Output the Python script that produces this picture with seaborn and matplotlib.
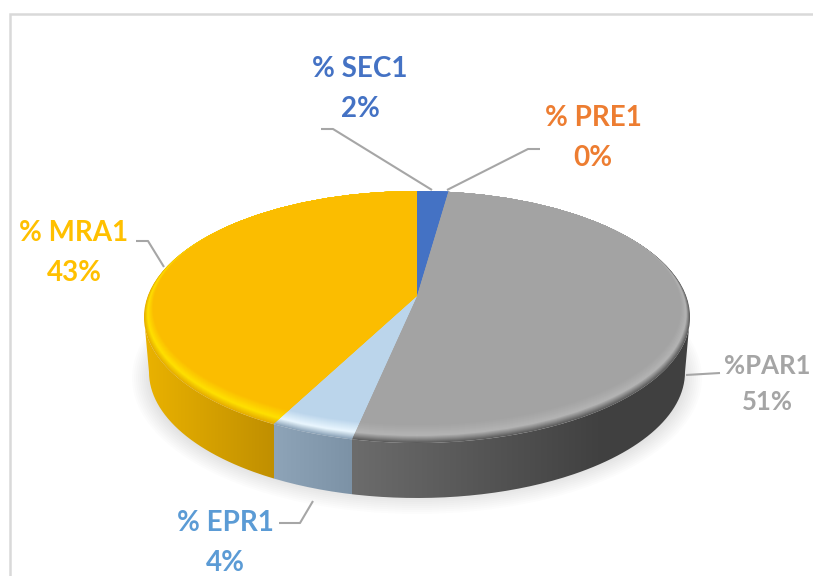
import numpy as np
import seaborn as sns
import matplotlib.pyplot as plt
from matplotlib.colors import to_rgb
from matplotlib.patches import Ellipse, PathPatch, Rectangle
from matplotlib.path import Path

labels = ['% SEC1', '% PRE1', '%PAR1', '% EPR1', '% MRA1']
values = [2, 0, 51, 4, 43]
face_colors = ['#4472c4', '#ed7d31', '#a3a3a3', '#bbd5eb', '#fbbd00']
text_colors = ['#4472c4', '#ed7d31', '#a5a5a5', '#5b9bd5', '#ffc000']
rim_outer = ['#3a62a8', '#c96a2a', '#5c5c5c', '#8ca3b8', '#e6ad00']
rim_light = ['#6f96e0', '#ffa060', '#b4b4b4', '#eaf7ff', '#ffe000']
wall_left = ['#30508a', '#b05c20', '#6c6c6c', '#8ea4b8', '#c08f00']
wall_right = ['#30508a', '#b05c20', '#404040', '#7c92a6', '#eab200']

# label centres and leader lines, in pixels of the picture
label_pos = [(360, 89), (593, 138), (767, 384), (225, 543), (74, 253)]
label_sizes = [20, 20, 18.5, 20, 20]
leaders = [
    [(321, 129), (333, 129), (432, 190)],
    [(540, 149), (528, 149), (447, 190)],
    [(720, 373), (686, 375)],
    [(279, 523), (300, 523), (313, 501)],
    [(136, 241), (148, 241), (164, 267)],
]

tip_x, tip_y = 417, 296
squash = 0.42
cy_px, rx, ry = 317, 273, 126
depth = 55
rim = 18


def fy(py):
    return (tip_y - py) / squash


def fx(px):
    return px - tip_x


sns.set_theme(style='white')
plt.rcParams['font.family'] = ['Lato', 'DejaVu Sans']

fig = plt.figure(figsize=(8.13, 5.76), dpi=100, facecolor='white')
ax = fig.add_axes([0, 0, 1, 1])


def ellipse(cx_px, c_px, a, b):
    return Ellipse((fx(cx_px), fy(c_px)), 2 * a, 2 * b / squash, transform=ax.transData)


def draw_face(colors, clip, zorder):
    wedges, _ = ax.pie(values, colors=colors, startangle=90, counterclock=False, radius=1600,
                       wedgeprops={'linewidth': 0, 'edgecolor': 'none'})
    for w in wedges:
        w.set_clip_on(True)
        w.set_clip_path(clip)
        w.set_zorder(zorder)


def mix(a, b, t):
    return tuple(np.array(to_rgb(a)) * (1 - t) + np.array(to_rgb(b)) * t)


# soft shadow under the pie
for i in range(10):
    ax.add_patch(Ellipse((fx(tip_x), fy(cy_px + depth + 6)), 2 * (rx + 12 - i * 2), 2 * (ry + 10 - i * 2) / squash,
                         facecolor='black', edgecolor='none', alpha=0.012, zorder=1))

# x position where each slice boundary meets the edge of the top ellipse
bounds = []
cum = np.cumsum([0] + values)
for c in cum:
    th = np.deg2rad(c * 3.6)
    dx, dy = np.sin(th), np.cos(th) * squash
    c0 = cy_px - tip_y
    A = (dx / rx) ** 2 + (dy / ry) ** 2
    B = 2 * dy * c0 / ry ** 2
    C = (c0 / ry) ** 2 - 1
    t = (-B + np.sqrt(B ** 2 - 4 * A * C)) / (2 * A)
    bounds.append(t * dx)

# side wall, shaded across x (only the front slices show a wall)
b_par, b_epr = bounds[3], bounds[4]
xs = np.arange(-rx, rx + 1)
wall = np.zeros((1, len(xs), 3))
for i, x in enumerate(xs):
    if x >= b_par:
        wall[0, i] = mix(wall_left[2], wall_right[2], min((x - b_par) / 250, 1))
    elif x >= b_epr:
        wall[0, i] = mix(wall_left[3], wall_right[3], (x - b_epr) / (b_par - b_epr))
    else:
        wall[0, i] = mix(wall_right[4], wall_left[4], (x + rx) / (b_epr + rx))

im = ax.imshow(wall, extent=(-rx, rx + 1, fy(520), fy(280)), aspect='auto', interpolation='nearest', zorder=2)
ang = np.linspace(np.pi, 0, 200)
upper_x = rx * np.cos(ang)
upper_y = cy_px + ry * np.sin(ang)
lower_x = (rx - 5) * np.cos(ang[::-1])
lower_y = cy_px + depth + ry * np.sin(ang[::-1])
verts = [(x, fy(y)) for x, y in zip(upper_x, upper_y)] + [(x, fy(y)) for x, y in zip(lower_x, lower_y)]
verts = verts + [verts[0]]
wall_clip = PathPatch(Path(verts), transform=ax.transData, facecolor='none', edgecolor='none')
im.set_clip_path(wall_clip)

# top face with a bevel along the front edge
n = rim
for j in range(n + 1):
    t = j / n
    cols = []
    for f, o, l in zip(face_colors, rim_outer, rim_light):
        if t < 0.4:
            cols.append(mix(o, l, t / 0.4))
        else:
            cols.append(mix(l, f, (t - 0.4) / 0.6))
    clip = ellipse(tip_x, cy_px - j / 2, rx - j / 2, ry - j / 2)
    draw_face(cols, clip, 3 + j * 0.01)

for lab, v, col, (px, py), size in zip(labels, values, text_colors, label_pos, label_sizes):
    ax.text(fx(px), fy(py), f'{lab}\n{v}%', color=col, fontsize=size, fontweight='bold',
            ha='center', va='center', linespacing=1.65, zorder=6)

for pts in leaders:
    ax.plot([fx(p[0]) for p in pts], [fy(p[1]) for p in pts], color='#a6a6a6', lw=1.5, zorder=5,
            solid_capstyle='butt')

# chart frame, running off the right and bottom edges
ax.add_patch(Rectangle((fx(10), fy(600)), 900, fy(14) - fy(600), facecolor='none', edgecolor='#d9d9d9', lw=1.8, zorder=0))

ax.set_aspect('auto')
ax.set_xlim(fx(0), fx(813))
ax.set_ylim(fy(576), fy(0))
ax.axis('off')
fig.savefig('out.png', dpi=100, facecolor='white')
